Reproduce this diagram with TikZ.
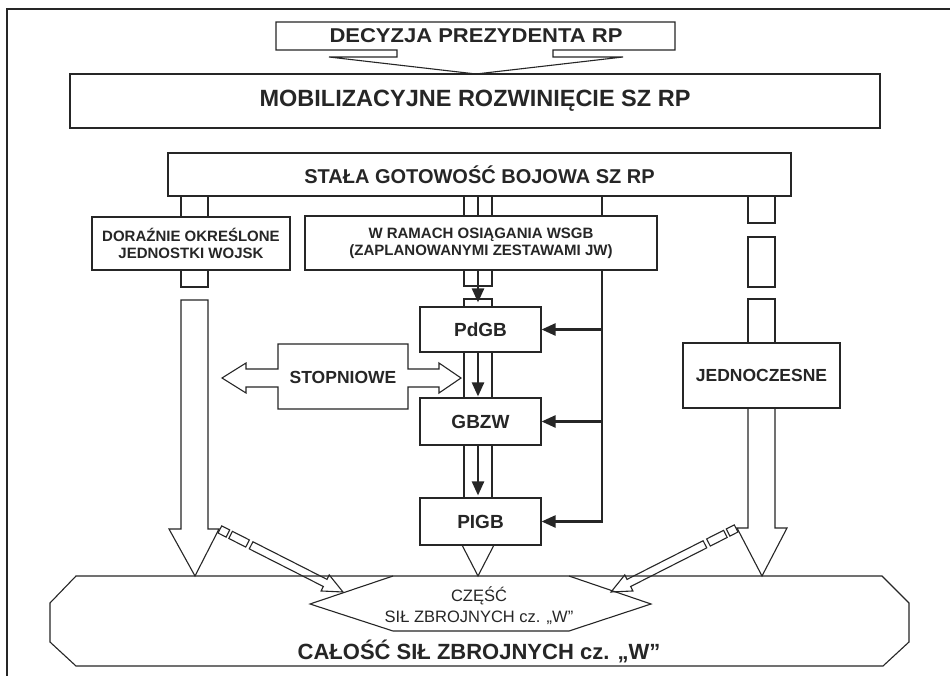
\documentclass[tikz,border=0pt]{standalone}
\usepackage{fontspec}
\setmainfont{Liberation Sans}
\usepackage{graphicx}
\usetikzlibrary{arrows.meta,calc}
\definecolor{ink}{HTML}{262626}

% a closed piece of a hollow shaft lying on the axis #1 -> #2,
% between distances #3 and #4 from #1, half width #5
\newcommand\hollowpiece[5]{%
  \coordinate (hp-a) at ($(#1)!#3!(#2)$);
  \coordinate (hp-b) at ($(#1)!#4!(#2)$);
  \draw[outline] ($(hp-a)!#5!90:(#2)$) -- ($(hp-b)!#5!90:(#2)$)
    -- ($(hp-b)!#5!-90:(#2)$) -- ($(hp-a)!#5!-90:(#2)$) -- cycle;}
% last shaft piece with its hollow head; tip at #2, shaft from distance #3,
% head length #4, shaft half width #5
\newcommand\hollowtip[5]{%
  \coordinate (ht-a) at ($(#1)!#3!(#2)$);
  \coordinate (ht-b) at ($(#2)!#4!(#1)$);
  \draw[outline] ($(ht-a)!#5!90:(#2)$) -- ($(ht-b)!#5!90:(#2)$)
    -- ($(ht-b)!9pt!90:(#2)$) -- (#2) -- ($(ht-b)!9pt!-90:(#2)$)
    -- ($(ht-b)!#5!-90:(#2)$) -- ($(ht-a)!#5!-90:(#2)$) -- cycle;}

\begin{document}
\begin{tikzpicture}[x=1pt,y=-1pt,line join=miter,
  outline/.style={draw=ink,line width=1.1pt},
  box/.style={outline,fill=white,inner sep=0pt,align=center,text=ink},
  tag/.style={inner sep=0pt,align=center,text=ink},
  flow/.style={draw=ink,line width=2.4pt,-{Triangle[length=14pt,width=12pt]}},
  rail/.style={draw=ink,line width=2.4pt}]

\fill[white] (0,0) rectangle (950,676);
\useasboundingbox (0,0) rectangle (950,676);

% frame
\draw[ink,line width=1.4pt] (950,9) -- (7,9) -- (7,676);

% decision box merged with its wide arrow
\draw[outline] (276,22) -- (675,22) -- (675,50) -- (553,50) -- (553,57) -- (623,57)
  -- (476,74) -- (329,57) -- (397,57) -- (397,50) -- (276,50) -- cycle;
\node[tag,font=\bfseries\fontsize{20}{24}\selectfont] (dec) at (476,36)
  {\scalebox{1.1}[1]{DECYZJA PREZYDENTA RP}};

% main boxes
\node[box,minimum width=810pt,minimum height=54pt,font=\bfseries\fontsize{23.5}{28}\selectfont]
  (mob) at (475,101) {MOBILIZACYJNE ROZWINIĘCIE SZ RP};
\node[box,minimum width=623pt,minimum height=43pt,font=\bfseries\fontsize{20}{24}\selectfont]
  (stala) at (479.5,174.5) {STAŁA GOTOWOŚĆ BOJOWA SZ RP};
\node[box,minimum width=198pt,minimum height=53pt,font=\bfseries\fontsize{15}{17}\selectfont]
  (dor) at (191,243.5) {DORAŹNIE OKREŚLONE\\JEDNOSTKI WOJSK};
\node[box,minimum width=352pt,minimum height=54pt,font=\bfseries\fontsize{15}{17}\selectfont]
  (wr) at (481,243) {W RAMACH OSIĄGANIA WSGB\\(ZAPLANOWANYMI ZESTAWAMI JW)};
\node[box,minimum width=121pt,minimum height=45pt,font=\bfseries\fontsize{19}{22}\selectfont]
  (pdgb) at (480.5,329.5) {PdGB};
\node[box,minimum width=121pt,minimum height=47pt,font=\bfseries\fontsize{19}{22}\selectfont]
  (gbzw) at (480.5,421.5) {GBZW};
\node[box,minimum width=121pt,minimum height=47pt,font=\bfseries\fontsize{19}{22}\selectfont]
  (pigb) at (480.5,521.5) {PIGB};
\node[box,minimum width=157pt,minimum height=65pt,font=\bfseries\fontsize{17.5}{20}\selectfont]
  (jedn) at (761.5,375.5) {JEDNOCZESNE};

% gradual box with arrows on both sides
\draw[outline] (278,344) -- (408,344) -- (408,369) -- (439,369) -- (439,363) -- (461,378)
  -- (439,393) -- (439,387) -- (408,387) -- (408,409) -- (278,409) -- (278,387)
  -- (246,387) -- (246,393) -- (222,378) -- (246,363) -- (246,369) -- (278,369) -- cycle;
\node[tag,font=\bfseries\fontsize{17.5}{20}\selectfont] (stop) at (343,377) {STOPNIOWE};

% whole armed forces and its part
\draw[outline] (76,576) -- (882,576) -- (909,603) -- (909,642) -- (883,666) -- (76,666)
  -- (50,642) -- (50,603) -- cycle;
\draw[outline] (393,576) -- (310,604) -- (393,631) -- (569,631) -- (651,604) -- (569,576);
\node[tag,font=\fontsize{16.5}{21}\selectfont] (czesc) at (479,606)
  {CZĘŚĆ\\SIŁ ZBROJNYCH cz. „W”};
\node[tag,font=\bfseries\fontsize{22}{26}\selectfont] (calosc) at (479,651)
  {CAŁOŚĆ SIŁ ZBROJNYCH cz. „W”};

% left column
\draw[outline] (181,196) -- (181,217) (208,196) -- (208,217);
\draw[outline] (181,270) -- (181,287) -- (208,287) -- (208,270);
\draw[outline] (181,300) -- (208,300) -- (208,529) -- (219,529) -- (195,576)
  -- (169,529) -- (181,529) -- cycle;

% right column
\draw[outline] (748,196) -- (748,223) -- (775,223) -- (775,196);
\draw[outline] (748,237) rectangle (775,287);
\draw[outline] (748,343) -- (748,299) -- (775,299) -- (775,343);
\draw[outline] (748,408) -- (748,528) -- (737,528) -- (762,576) -- (787,528)
  -- (775,528) -- (775,408);

% middle column
\coordinate (mx) at (478,0);
\coordinate (rx) at (602,0);
\draw[outline] (464,196) -- (464,216) (492,196) -- (492,216);
\draw[rail] (stala.south -| mx) -- (wr.north -| mx);
\draw[outline] (464,270) -- (464,286) -- (492,286) -- (492,270);
\draw[outline] (464,307) -- (464,299) -- (492,299) -- (492,307);
\draw[flow,shorten >=4pt] (wr.south -| mx) -- (pdgb.north -| mx);
\draw[outline] (464,352) -- (464,398) (492,352) -- (492,398);
\draw[flow,shorten >=1pt] (pdgb.south -| mx) -- (gbzw.north -| mx);
\draw[outline] (464,445) -- (464,498) (492,445) -- (492,498);
\draw[flow,shorten >=2pt] (gbzw.south -| mx) -- (pigb.north -| mx);
\draw[outline] (462,545) -- (478,576) -- (494,545);

% feed line on the right of the middle column
\draw[rail] (stala.south -| rx) -- (wr.north -| rx);
\draw[flow] (wr.south -| rx) |- (pigb.east);
\draw[flow] (pdgb.east -| rx) -- (pdgb.east);
\draw[flow] (gbzw.east -| rx) -- (gbzw.east);

% broken diagonal arrows into the part
\coordinate (lp) at (219,529);
\coordinate (lt) at (343,592);
\hollowpiece{lp}{lt}{1pt}{10pt}{4pt}
\hollowpiece{lp}{lt}{13pt}{32pt}{4pt}
\hollowtip{lp}{lt}{36pt}{20pt}{4pt}
\coordinate (rp) at (737,528);
\coordinate (rt) at (611,592);
\hollowpiece{rp}{rt}{1pt}{10pt}{4pt}
\hollowpiece{rp}{rt}{13pt}{32pt}{4pt}
\hollowtip{rp}{rt}{36pt}{20pt}{4pt}
\end{tikzpicture}
\end{document}
